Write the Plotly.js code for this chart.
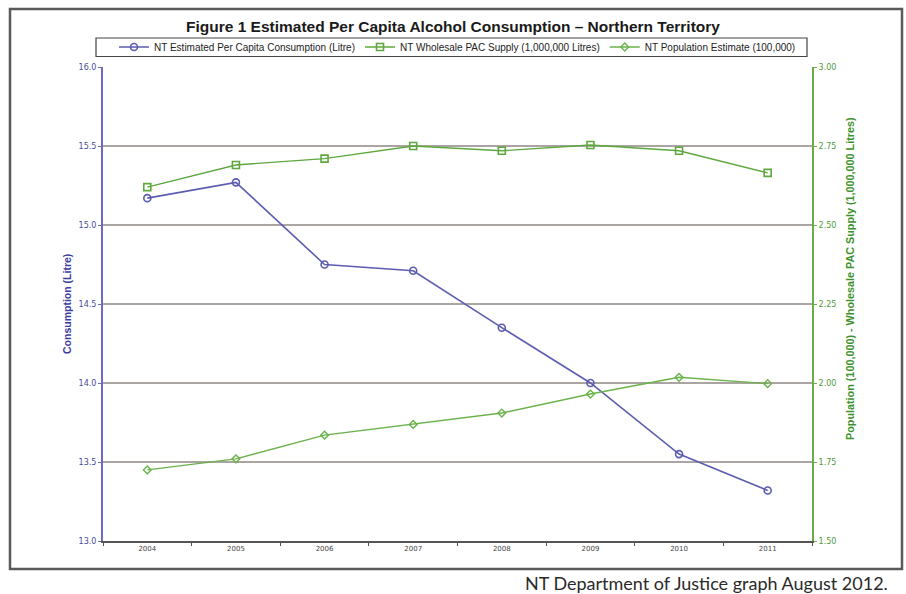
<!DOCTYPE html>
<html>
<head>
<meta charset="utf-8">
<script src="https://cdn.plot.ly/plotly-3.0.1.min.js"></script>
<style>html,body{margin:0;padding:0;background:#fff;}#chart{width:906px;height:594px;}</style>
</head>
<body>
<div id="chart"></div>
<script>
const years = ["2004","2005","2006","2007","2008","2009","2010","2011"];
const consumption = [15.17, 15.27, 14.75, 14.71, 14.35, 14.00, 13.55, 13.32];
const wholesaleSupply = [2.62, 2.69, 2.71, 2.75, 2.735, 2.753, 2.735, 2.665];
const population = [1.725, 1.76, 1.835, 1.869, 1.905, 1.965, 2.018, 1.998];

const leftTicks = [13.0, 13.5, 14.0, 14.5, 15.0, 15.5, 16.0];
const rightTicks = [1.50, 1.75, 2.00, 2.25, 2.50, 2.75, 3.00];

const blue = '#5c5cb0';
const green1 = '#5ea83e';
const green2 = '#6ab24a';

// plot-area pixel helpers for placing decorations
const PL = 103, PR = 812, PT = 67, PB = 541;
const px = x => (x - PL) / (PR - PL);
const py = y => (PB - y) / (PB - PT);

const traces = [
  {
    x: years, y: consumption, type: 'scatter', mode: 'lines+markers',
    name: 'NT Estimated Per Capita Consumption (Litre)',
    line: {color: blue, width: 1.6},
    marker: {symbol: 'circle-open', size: 7, color: blue, line: {width: 1.6, color: blue}},
    yaxis: 'y'
  },
  {
    x: years, y: wholesaleSupply, type: 'scatter', mode: 'lines+markers',
    name: 'NT Wholesale PAC Supply (1,000,000 Litres)',
    line: {color: green1, width: 1.4},
    marker: {symbol: 'square-open', size: 7, color: green1, line: {width: 1.6, color: green1}},
    yaxis: 'y2'
  },
  {
    x: years, y: population, type: 'scatter', mode: 'lines+markers',
    name: 'NT Population Estimate (100,000)',
    line: {color: green2, width: 1.4},
    marker: {symbol: 'diamond-open', size: 6, color: green2, line: {width: 1.4, color: green2}},
    yaxis: 'y2'
  }
];

const layout = {
  width: 906, height: 594,
  margin: {l: PL, r: 906 - PR, t: PT, b: 594 - PB},
  paper_bgcolor: '#ffffff',
  plot_bgcolor: '#ffffff',
  font: {family: 'Arial, Liberation Sans, sans-serif', color: '#222'},
  showlegend: true,
  legend: {
    orientation: 'h', x: 0.5, xanchor: 'center', y: py(47), yanchor: 'middle',
    borderwidth: 0, bgcolor: 'rgba(0,0,0,0)',
    font: {family: 'Arial, Liberation Sans, sans-serif', size: 10, color: '#222'},
    itemwidth: 30, tracegroupgap: 0, traceorder: 'normal'
  },
  xaxis: {
    type: 'category', range: [-0.5, 7.5],
    showline: true, linecolor: '#555', linewidth: 2,
    ticks: 'outside', ticklen: 3, tickcolor: '#555', tickson: 'boundaries',
    showgrid: false, zeroline: false,
    tickfont: {family: 'DejaVu Sans, Verdana, sans-serif', size: 7, color: '#444'},
    fixedrange: true
  },
  yaxis: {
    range: [13.0, 16.0], tickvals: leftTicks, ticktext: leftTicks.map(v => v.toFixed(1)),
    showline: true, linecolor: '#6b6bc6', linewidth: 2,
    ticks: 'outside', ticklen: 3, tickcolor: '#6b6bc6',
    showgrid: true, gridcolor: '#aaa4a2', gridwidth: 1.5, zeroline: false,
    tickfont: {family: 'DejaVu Sans, Verdana, sans-serif', size: 8, color: '#4a4a9a'}
  },
  yaxis2: {
    overlaying: 'y', side: 'right',
    range: [1.5, 3.0], tickvals: rightTicks, ticktext: rightTicks.map(v => v.toFixed(2)),
    showline: true, linecolor: '#6aae48', linewidth: 2,
    ticks: 'outside', ticklen: 3, tickcolor: '#6aae48',
    showgrid: false, zeroline: false,
    tickfont: {family: 'DejaVu Sans, Verdana, sans-serif', size: 8, color: '#4f9a3a'}
  },
  shapes: [
    {type: 'rect', xref: 'paper', yref: 'paper',
     x0: px(10), x1: px(902), y0: py(569), y1: py(9),
     line: {color: '#5a5a5a', width: 2.5}, fillcolor: 'rgba(0,0,0,0)', layer: 'below'},
    {type: 'rect', xref: 'paper', yref: 'paper',
     x0: px(96), x1: px(807), y0: py(56.5), y1: py(38),
     line: {color: '#444', width: 1.2}, fillcolor: 'rgba(0,0,0,0)', layer: 'below'}
  ],
  annotations: [
    {text: '<b>Figure 1 Estimated Per Capita Alcohol Consumption – Northern Territory</b>',
     xref: 'paper', yref: 'paper', x: px(453), y: py(26), xanchor: 'center', yanchor: 'middle',
     showarrow: false,
     font: {family: 'Arial, Liberation Sans, sans-serif', size: 15.5, color: '#1a1a1a'}},
    {text: '<b>Consumption (Litre)</b>', xref: 'paper', yref: 'paper',
     x: px(67), y: py(304), xanchor: 'center', yanchor: 'middle', textangle: -90,
     showarrow: false,
     font: {family: 'Arial, Liberation Sans, sans-serif', size: 10.5, color: '#3c3c9c'}},
    {text: '<b>Population (100,000) - Wholesale PAC Supply (1,000,000 Litres)</b>', xref: 'paper', yref: 'paper',
     x: px(850), y: py(278), xanchor: 'center', yanchor: 'middle', textangle: -90,
     showarrow: false,
     font: {family: 'Arial, Liberation Sans, sans-serif', size: 10.8, color: '#3e922c'}},
    {text: 'NT Department of Justice graph August 2012.', xref: 'paper', yref: 'paper',
     x: px(890), xanchor: 'right', y: py(583), yanchor: 'middle',
     showarrow: false,
     font: {family: 'Lato, Open Sans, sans-serif', size: 18, color: '#2a2a2a'}}
  ]
};

Plotly.newPlot('chart', traces, layout, {displayModeBar: false, staticPlot: true});
</script>
</body>
</html>
